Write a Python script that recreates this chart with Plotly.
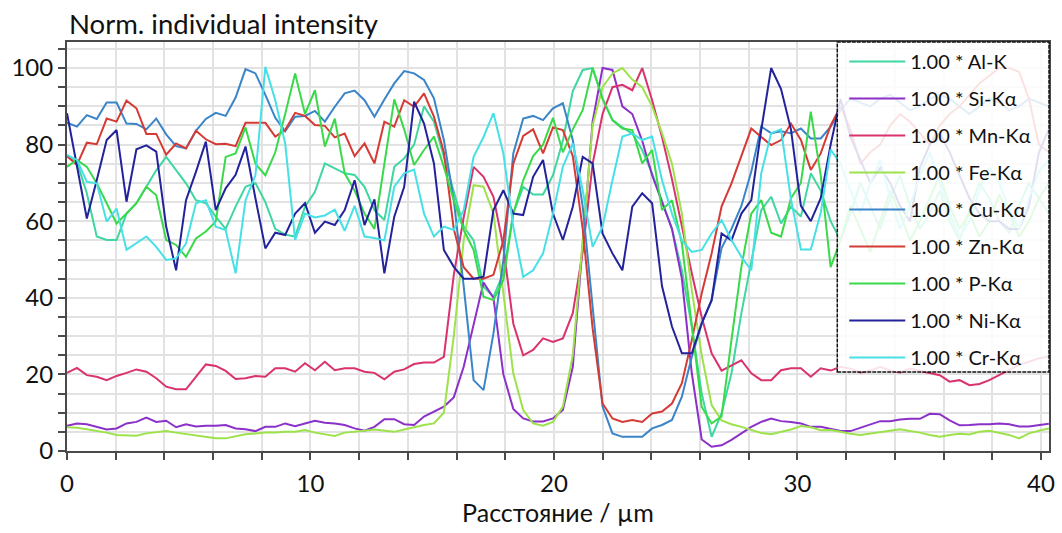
import plotly.graph_objects as go

# Line-scan sampling grid (µm)
n_points = 100
step_um = 0.4073
distance = [round(i * step_um, 4) for i in range(n_points)]

al_k = [77, 75.5, 67.3, 56, 55.1, 55.1, 62, 64.7, 69, 73.3,
        76.8, 73.3, 69.9, 65.5, 64.7, 61.2, 58, 63.8, 69, 70,
        65, 58, 56.5, 56, 63.8, 67.7, 75.1, 73.8, 72.5, 72.1,
        69, 62.9, 60.3, 74.2, 76.4, 80, 90, 86, 77, 68,
        58.6, 55, 42.9, 40.3, 46.4, 62, 69, 67, 67, 72,
        81, 94, 99.5, 100, 92, 86.4, 84.5, 82.9, 78.6, 72.5,
        65.5, 58, 47.2, 32.5, 15, 3.7, 9.8, 20.3, 36, 49.9,
        62.9, 66.4, 59.4, 63.8, 61.2, 72.5, 68, 60, 55, 62,
        70, 64, 58, 66, 72, 64, 58, 62, 68, 60,
        55, 63, 70, 66, 60, 57, 64, 70, 66, 62]

si_ka = [6.6, 7.2, 7.0, 6.4, 5.6, 5.9, 7.2, 7.6, 8.7, 7.6,
         7.9, 6.2, 7.0, 6.4, 6.6, 6.6, 6.8, 5.9, 5.7, 5.2,
         6.3, 6.3, 7.2, 6.5, 7.2, 7.9, 7.4, 7.2, 6.8, 5.9,
         5.3, 6.3, 8.3, 8.3, 7.0, 6.8, 9.0, 10.3, 11.6, 14,
         22, 33, 44, 40, 20, 11, 8.5, 7.7, 7.7, 8.5,
         10.7, 22, 55, 86, 100, 99.5, 90, 88, 81, 72,
         65, 58, 45, 20.3, 3.0, 1.1, 1.5, 2.9, 4.6, 6.3,
         7.6, 8.5, 7.8, 7.6, 7.2, 6.3, 6.3, 5.8, 5.2, 5.2,
         6.0, 7.0, 7.8, 7.8, 8.2, 8.4, 8.4, 9.7, 9.6, 8.0,
         6.7, 6.8, 7.0, 7.0, 7.2, 7.0, 6.4, 6.4, 6.8, 7.1]

mn_ka = [20.4, 21.7, 19.8, 19.4, 18.5, 19.6, 20.4, 21.3, 20.7, 19,
         16.8, 16.1, 16.1, 19.2, 22.6, 22.2, 20.9, 18.8, 19, 19.6,
         19.4, 21.6, 21.6, 20.7, 22.9, 21.1, 23.3, 21.1, 21.6, 21.6,
         20.7, 20.4, 18.7, 20.7, 21.3, 22.7, 23.1, 23.1, 24.6, 46,
         61, 74.2, 71.6, 66.4, 53.3, 33.3, 25, 26.4, 29.4, 28.5,
         29.4, 36, 52, 75, 88, 95, 95.6, 94.2, 100, 91.6,
         82, 71, 58.6, 46.4, 35, 25.5, 21, 22.4, 23.7, 20.3,
         18.5, 18.5, 21.1, 21.6, 21.6, 19.4, 21.6, 21, 22, 21.5,
         20.5, 21, 22, 21, 20.5, 21.5, 21, 20.5, 19.8, 18.1,
         18.5, 17.2, 17.5, 18.5, 19.8, 21, 22.5, 23.3, 24.2, 24.6]

fe_ka = [6.2, 6.1, 5.7, 5.3, 4.8, 4.2, 4.1, 4.0, 4.6, 4.9,
         5.2, 4.8, 4.4, 3.9, 3.6, 3.3, 3.3, 3.9, 4.4, 4.6,
         4.8, 4.8, 5.0, 5.0, 5.5, 4.8, 4.4, 3.9, 4.8, 5.0,
         5.3, 5.6, 5.3, 5.0, 5.6, 6.3, 6.8, 7.2, 10, 30,
         55, 69.4, 69, 62, 41, 20.3, 10.7, 7.2, 6.6, 7.6,
         11.6, 25, 55, 85, 95, 98.6, 100, 97, 95, 90,
         83, 75, 62, 42, 25, 12, 8, 7, 6.3, 5.6,
         4.7, 4.4, 5.0, 5.6, 6.5, 6.2, 5.4, 5.5, 5.0, 4.5,
         4.2, 4.6, 5.0, 5.4, 5.7, 5.2, 4.8, 4.2, 3.7, 4.2,
         4.5, 4.3, 5.0, 5.3, 4.8, 4.2, 3.3, 4.6, 5.3, 5.9]

cu_ka = [85.7, 84.7, 87.7, 86.7, 91, 91, 85.5, 85.4, 84, 86.8,
         82.7, 79.6, 79, 83.6, 86.7, 88.3, 87.5, 92.3, 99.7, 98.6,
         93, 87, 83.5, 87.3, 87.5, 88.8, 86, 89.9, 93.4, 94.1,
         91.6, 87.3, 91.8, 96, 99.2, 98.6, 96.9, 92.1, 81.2, 65.5,
         43, 18.5, 15.9, 30.7, 49.9, 77.7, 86.8, 87.5, 86.4, 89.5,
         90.8, 81.2, 63.8, 37.7, 11.6, 4.6, 3.7, 3.7, 3.7, 5.9,
         6.8, 8.1, 14.2, 24.6, 33.3, 39.4, 53, 58, 64, 73,
         84.7, 83, 83.5, 83, 84.2, 81.6, 81.6, 84.7, 89, 92,
         91, 90, 92, 93, 91, 89, 90, 92, 93, 92,
         90, 88, 90, 92, 91, 89, 90, 92, 91, 90]

zn_ka = [77, 74.7, 80.5, 80.1, 86.8, 86, 91.5, 89.5, 82.8, 82.8,
         77.4, 80.3, 79, 83.6, 81.4, 80.1, 80.2, 79.6, 85.7, 85.7,
         85.7, 82.1, 83.8, 88.3, 87.5, 85.1, 84.9, 81.9, 82.9, 77,
         80.3, 75.1, 86, 84.7, 91.6, 89.9, 93.4, 87.3, 78, 58,
         48, 45, 45, 46, 55, 75, 82.3, 84, 77.7, 84.5,
         83.8, 77, 58, 32, 12.4, 8.5, 7.6, 8.1, 7.6, 9.8,
         10.3, 12.4, 17.7, 29, 41.2, 51.6, 63.8, 69.9, 76.8, 84.2,
         82, 79.9, 81.2, 85.5, 81.2, 73.4, 77.7, 85, 90, 84,
         75, 78, 80, 85, 88, 86, 83, 80, 85, 88,
         90, 93, 96, 98, 100, 100, 99, 92, 80, 78]

p_ka = [74.2, 76, 74.2, 69.9, 64.7, 59.4, 62, 64.7, 69, 66.8,
        55.1, 53.8, 50.7, 55.5, 57.3, 59.9, 76.8, 77.7, 84.5, 75,
        72, 78, 88, 98.6, 88, 94.2, 79.5, 86.8, 72.5, 68,
        62, 58, 75, 91.8, 84, 74.7, 78.6, 82.1, 74.2, 65.5,
        57.7, 52.5, 40.3, 39.4, 44.6, 62, 70.7, 77, 80, 87,
        78, 84, 89, 100, 92, 86.4, 84.2, 83.8, 75.1, 78.6,
        62.9, 65.5, 54.2, 33.3, 11.5, 7.2, 9, 29, 48.1, 62,
        65.5, 57, 56, 66, 70, 88.6, 72, 48, 55, 64,
        58, 52, 60, 68, 62, 55, 60, 66, 72, 64,
        58, 62, 56, 60, 67, 62, 56, 60, 66, 70]

ni_ka = [88.2, 74.7, 60.7, 70.7, 81.2, 83.8, 65.1, 78.8, 79.8, 78.2,
         58.6, 47.2, 65.5, 72.9, 80.8, 62.9, 68.6, 72.1, 79.5, 66,
         52.9, 57, 56.4, 62, 64.7, 57, 59.9, 59, 62.9, 70.7,
         59, 65.7, 46.4, 61.2, 69, 91.2, 85.5, 75.1, 52.5, 48.1,
         45, 45, 45.5, 62.9, 68.1, 62, 61.6, 71.6, 76, 62,
         55.1, 63.8, 76.8, 75.1, 56.8, 51.6, 47.2, 63.8, 67.3, 64.7,
         43, 32.5, 25.5, 25.5, 33.3, 39.4, 56.8, 55, 62, 65.5,
         83.8, 100, 94.5, 84, 64, 60, 66, 80, 92, 82,
         76, 70, 74, 70, 64, 60, 74, 80, 83, 78,
         72, 66, 62, 60, 60, 58, 58, 64, 78, 84]

cr_ka = [77.3, 76, 70.3, 69.9, 59.9, 63.3, 52.5, 54.2, 56, 53.3,
         49.9, 50.3, 54.2, 64.7, 65.5, 58.6, 57.7, 46.4, 65.5, 72,
         100.3, 91.6, 80.3, 55.1, 62, 61, 61.5, 63, 57.5, 64,
         56, 55.6, 55, 69, 72.5, 73.5, 62, 56, 58.6, 57.7,
         62.9, 76.8, 82, 88.2, 77.7, 58.6, 45.5, 47.2, 51.6, 62,
         74.2, 80.3, 68.1, 53.3, 58.6, 70.7, 82.1, 82.9, 81.2, 82.1,
         70.7, 62, 55, 52, 52.5, 56.8, 60.3, 55.1, 50.7, 47.2,
         72.5, 83, 84, 65.7, 52.6, 52.6, 62.2, 78.7, 75, 68,
         62, 70, 76, 66, 58, 64, 72, 78, 70, 62,
         56, 60, 68, 74, 70, 63, 58, 66, 73, 76]

labels = ["1.00 * Al-K", "1.00 * Si-Kα", "1.00 * Mn-Kα", "1.00 * Fe-Kα",
          "1.00 * Cu-Kα", "1.00 * Zn-Kα", "1.00 * P-Kα", "1.00 * Ni-Kα",
          "1.00 * Cr-Kα"]
series = [al_k, si_ka, mn_ka, fe_ka, cu_ka, zn_ka, p_ka, ni_ka, cr_ka]
colors = ["#3fd6a0", "#8b30c8", "#d9326f", "#9de24a", "#3a84c8",
          "#d63a35", "#3ad94a", "#22229a", "#46e0e6"]

FONT = "Lato, 'Open Sans', sans-serif"
GRID = "#e2e2e2"
AXIS = "#4a4a4a"

fig = go.Figure()
for name, values, color in zip(labels, series, colors):
    fig.add_trace(go.Scatter(
        x=distance, y=values, mode="lines", name=name,
        legendgroup=name,
        line=dict(color=color, width=2),
    ))

axis_common = dict(
    showline=True, linecolor=AXIS, linewidth=2, mirror=True,
    ticks="outside", ticklen=7, tickcolor=AXIS, tickwidth=1.5,
    showgrid=True, gridcolor=GRID, gridwidth=1.5, zeroline=False,
    tickfont=dict(family=FONT, size=24, color="#111111"),
)

fig.update_xaxes(
    range=[0, 40.33], tick0=0, dtick=10, ticklabelstandoff=3,
    minor=dict(dtick=2, showgrid=True, gridcolor=GRID, gridwidth=1.5,
               ticks="outside", ticklen=7, tickcolor=AXIS),
    title=dict(text="Расстояние / µm", font=dict(family=FONT, size=25, color="#111111"),
               standoff=8),
    **axis_common,
)
fig.update_yaxes(
    range=[0, 106.8], tick0=0, dtick=20,
    minor=dict(dtick=5, showgrid=True, gridcolor=GRID, gridwidth=1.5,
               ticks="outside", ticklen=7, tickcolor=AXIS),
    **axis_common,
)

fig.add_annotation(
    text="Norm. individual intensity", xref="paper", yref="paper",
    x=0, y=1, xanchor="left", yanchor="bottom", yshift=0, showarrow=False,
    font=dict(family=FONT, size=27.5, color="#111111"),
)

# Translucent legend panel over the right end of the scan
fig.add_shape(
    type="rect", xref="paper", yref="paper",
    x0=0.7844, x1=1.0, y0=0.193, y1=1.0,
    fillcolor="rgba(255,255,255,0.86)",
    line=dict(color="#111111", width=1.5, dash="4px,1px"),
    layer="above",
)

fig.update_layout(
    width=1062, height=533,
    margin=dict(l=67, r=7, t=42, b=82),
    paper_bgcolor="white", plot_bgcolor="white",
    showlegend=True,
    legend=dict(
        x=0.7915, y=1, xanchor="left", yanchor="top",
        bgcolor="rgba(0,0,0,0)", borderwidth=0,
        font=dict(family=FONT, size=20, color="#111111"),
        tracegroupgap=8, itemwidth=56,
    ),
)

fig.write_html("out.html")
